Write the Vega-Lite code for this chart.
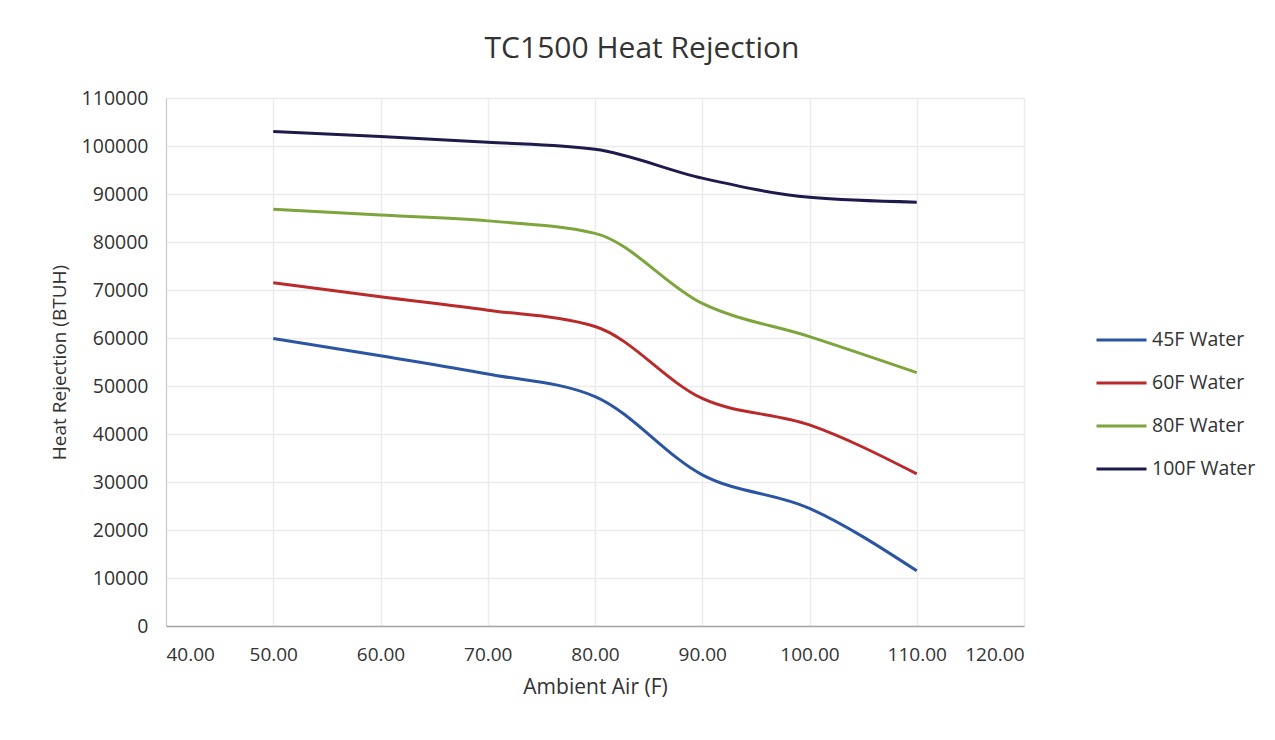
{
  "$schema": "https://vega.github.io/schema/vega-lite/v6.json",
  "autosize": {"type": "none"},
  "width": 858,
  "height": 528,
  "padding": {"left": 166, "top": 98, "right": 251, "bottom": 114},
  "background": "white",
  "title": {
    "text": "TC1500 Heat Rejection",
    "font": "Open Sans",
    "fontSize": 30,
    "fontWeight": "normal",
    "color": "#333333",
    "anchor": "middle",
    "dx": 47,
    "offset": 24
  },
  "config": {
    "view": {"stroke": null},
    "font": "Open Sans"
  },
  "data": {
    "values": [
      {"air": 50, "series": "45F Water", "btuh": 59900},
      {"air": 60, "series": "45F Water", "btuh": 56300},
      {"air": 70, "series": "45F Water", "btuh": 52500},
      {"air": 80, "series": "45F Water", "btuh": 47800},
      {"air": 90, "series": "45F Water", "btuh": 31500},
      {"air": 100, "series": "45F Water", "btuh": 24500},
      {"air": 110, "series": "45F Water", "btuh": 11500},
      {"air": 50, "series": "60F Water", "btuh": 71500},
      {"air": 60, "series": "60F Water", "btuh": 68600},
      {"air": 70, "series": "60F Water", "btuh": 65800},
      {"air": 80, "series": "60F Water", "btuh": 62400},
      {"air": 90, "series": "60F Water", "btuh": 47400},
      {"air": 100, "series": "60F Water", "btuh": 41900},
      {"air": 110, "series": "60F Water", "btuh": 31700},
      {"air": 50, "series": "80F Water", "btuh": 86800},
      {"air": 60, "series": "80F Water", "btuh": 85600},
      {"air": 70, "series": "80F Water", "btuh": 84400},
      {"air": 80, "series": "80F Water", "btuh": 81800},
      {"air": 90, "series": "80F Water", "btuh": 67200},
      {"air": 100, "series": "80F Water", "btuh": 60300},
      {"air": 110, "series": "80F Water", "btuh": 52800},
      {"air": 50, "series": "100F Water", "btuh": 103000},
      {"air": 60, "series": "100F Water", "btuh": 102000},
      {"air": 70, "series": "100F Water", "btuh": 100800},
      {"air": 80, "series": "100F Water", "btuh": 99300},
      {"air": 90, "series": "100F Water", "btuh": 93300},
      {"air": 100, "series": "100F Water", "btuh": 89300},
      {"air": 110, "series": "100F Water", "btuh": 88300}
    ]
  },
  "mark": {"type": "line", "interpolate": "monotone", "strokeWidth": 3},
  "encoding": {
    "x": {
      "field": "air",
      "type": "quantitative",
      "scale": {"domain": [40, 120], "nice": false, "zero": false},
      "axis": {
        "title": "Ambient Air (F)",
        "titleFont": "Open Sans",
        "titleFontSize": 21,
        "titleFontWeight": "normal",
        "titleColor": "#333333",
        "titlePadding": 12,
        "values": [40, 50, 60, 70, 80, 90, 100, 110, 120],
        "format": ".2f",
        "labelFont": "Open Sans",
        "labelFontSize": 19,
        "labelColor": "#333333",
        "labelPadding": 19,
        "ticks": false,
        "domainColor": "#a6a6a6",
        "domainWidth": 1.5,
        "grid": true,
        "gridColor": "#ebebeb",
        "gridWidth": 1.5
      }
    },
    "y": {
      "field": "btuh",
      "type": "quantitative",
      "scale": {"domain": [0, 110000], "nice": false},
      "axis": {
        "title": "Heat Rejection (BTUH)",
        "titleFont": "Open Sans",
        "titleFontSize": 19,
        "titleFontWeight": "normal",
        "titleColor": "#333333",
        "titlePadding": 12,
        "values": [0, 10000, 20000, 30000, 40000, 50000, 60000, 70000, 80000, 90000, 100000, 110000],
        "format": "d",
        "labelFont": "Open Sans",
        "labelFontSize": 19.5,
        "labelColor": "#333333",
        "labelPadding": 18,
        "ticks": false,
        "domainColor": "#c8c8c8",
        "domainWidth": 1,
        "grid": true,
        "gridColor": "#ebebeb",
        "gridWidth": 1.5
      }
    },
    "color": {
      "field": "series",
      "type": "nominal",
      "sort": ["45F Water", "60F Water", "80F Water", "100F Water"],
      "scale": {
        "domain": ["45F Water", "60F Water", "80F Water", "100F Water"],
        "range": ["#2B55A3", "#BB2A2A", "#7EA43C", "#1D1A4C"]
      },
      "legend": {
        "title": null,
        "orient": "none",
        "legendX": 929,
        "legendY": 231,
        "symbolType": "stroke",
        "symbolSize": 2500,
        "symbolStrokeWidth": 3,
        "clipHeight": 22,
        "rowPadding": 21,
        "labelFont": "Open Sans",
        "labelFontSize": 19.5,
        "labelColor": "#333333",
        "labelOffset": 4
      }
    }
  }
}
